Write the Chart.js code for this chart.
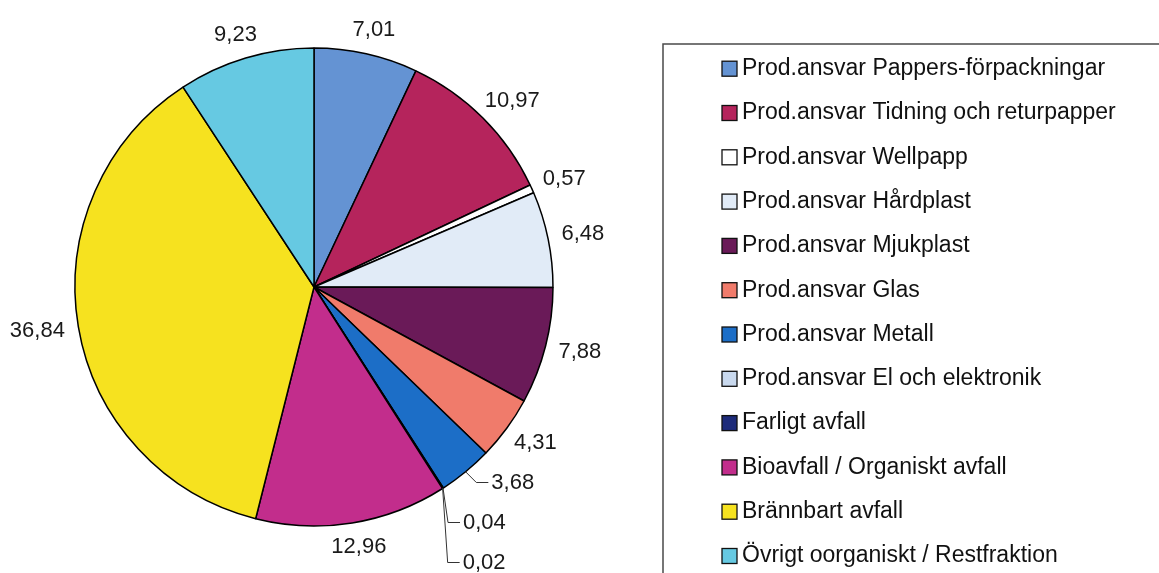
<!DOCTYPE html>
<html lang="sv">
<head>
<meta charset="UTF-8">
<title>Avfallsfraktioner</title>
<script src="https://cdn.jsdelivr.net/npm/chart.js"></script>
<style>
    html, body {
        margin: 0;
        padding: 0;
        background: #fff;
    }

    .chart-wrap {
        position: relative;
        width: 1159px;
        height: 573px;
    }
</style>
</head>
<body>
<div class="chart-wrap">
    <canvas id="fraktionChart"></canvas>
</div>
<script>
// Fraktioner (andel i %)
const categories = [
    'Prod.ansvar Pappers-förpackningar',
    'Prod.ansvar Tidning och returpapper',
    'Prod.ansvar Wellpapp',
    'Prod.ansvar Hårdplast',
    'Prod.ansvar Mjukplast',
    'Prod.ansvar Glas',
    'Prod.ansvar Metall',
    'Prod.ansvar El och elektronik',
    'Farligt avfall',
    'Bioavfall / Organiskt avfall',
    'Brännbart avfall',
    'Övrigt oorganiskt / Restfraktion'
];
const shares = [7.01, 10.97, 0.57, 6.48, 7.88, 4.31, 3.68, 0.04, 0.02, 12.96, 36.84, 9.23];

const sliceColors = [
    '#6493d3', '#b5245c', '#ffffff', '#e1ebf7', '#6a1a58', '#f07b6b',
    '#1c6ec7', '#c9d9ee', '#1d2b7a', '#c22d8c', '#f6e21f', '#66c9e2'
];

// Värden utanför tårtan, små bitar nere till höger staplas med ledarlinje
const sliceLabels = {
    id: 'sliceLabels',
    afterDatasetsDraw(chart) {
        const ctx = chart.ctx;
        const arcs = chart.getDatasetMeta(0).data;
        const vals = chart.data.datasets[0].data;
        ctx.save();
        ctx.font = '22px "Liberation Sans", Arial, sans-serif';
        ctx.fillStyle = '#1a1a1a';
        ctx.strokeStyle = '#333';
        ctx.lineWidth = 1;
        ctx.textBaseline = 'middle';
        ctx.textAlign = 'center';
        let prevY = null;
        arcs.forEach((arc, i) => {
            const mid = (arc.startAngle + arc.endAngle) / 2;
            const ux = Math.cos(mid), uy = Math.sin(mid);
            const r = arc.outerRadius;
            const txt = vals[i].toFixed(2).replace('.', ',');
            const w = ctx.measureText(txt).width;
            const h = 20;
            let cx = arc.x + (r + 14) * ux + ux * w / 2;
            let cy = arc.y + (r + 14) * uy + uy * h / 2;
            if (vals[i] < 4 && uy > 0.5 && prevY !== null) {
                const ax = arc.x + r * ux, ay = arc.y + r * uy;
                cy = prevY + 40;
                const dy = cy - ay;
                const ex = ax + (dy < 20 ? dy : 5);
                ctx.beginPath();
                ctx.moveTo(ax, ay);
                ctx.lineTo(ex, cy);
                ctx.lineTo(ex + 12, cy);
                ctx.stroke();
                cx = ex + 15 + w / 2;
            }
            ctx.fillText(txt, cx, cy);
            prevY = cy;
        });
        ctx.restore();
    }
};

// Förklaring i ram till höger
const boxLegend = {
    id: 'boxLegend',
    afterDraw(chart) {
        const ctx = chart.ctx;
        const ds = chart.data.datasets[0];
        ctx.save();
        ctx.strokeStyle = '#4a4a4a';
        ctx.lineWidth = 1.5;
        ctx.strokeRect(663, 44, 600, 600);
        ctx.font = '23px "Liberation Sans", Arial, sans-serif';
        ctx.textBaseline = 'middle';
        chart.data.labels.forEach((lab, i) => {
            const y = 68.7 + i * 44.3;
            ctx.fillStyle = ds.backgroundColor[i];
            ctx.fillRect(722, y - 7.5, 15, 15);
            ctx.strokeStyle = '#111';
            ctx.lineWidth = 1.3;
            ctx.strokeRect(722, y - 7.5, 15, 15);
            ctx.fillStyle = '#111';
            ctx.fillText(lab, 742, y);
        });
        ctx.restore();
    }
};

const ctx = document.getElementById('fraktionChart').getContext('2d');
new Chart(ctx, {
    type: 'pie',
    data: {
        labels: categories,
        datasets: [{
            data: shares,
            backgroundColor: sliceColors,
            borderColor: '#000',
            borderWidth: 1.5
        }]
    },
    options: {
        responsive: true,
        maintainAspectRatio: false,
        animation: false,
        radius: 239,
        layout: {
            padding: { left: 70, right: 601, top: 40, bottom: 39 }
        },
        plugins: {
            legend: { display: false },
            tooltip: { enabled: false }
        }
    },
    plugins: [sliceLabels, boxLegend]
});
</script>
</body>
</html>
